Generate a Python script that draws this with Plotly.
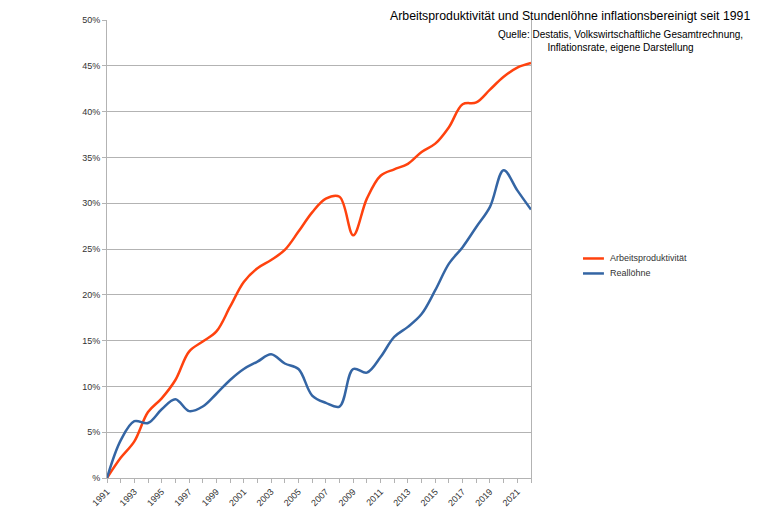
import plotly.graph_objects as go

years = list(range(1991, 2023))
arbeitsproduktivitaet = [0.0, 2.2, 4.0, 7.2, 8.7, 10.7, 13.8, 14.9, 16.0, 18.7, 21.4, 22.9,
                         23.8, 24.9, 26.9, 29.0, 30.5, 30.7, 26.5, 30.5, 33.0, 33.7, 34.3,
                         35.6, 36.5, 38.3, 40.8, 41.0, 42.4, 43.8, 44.8, 45.3]
realloehne = [0.0, 4.1, 6.2, 6.0, 7.5, 8.6, 7.3, 7.8, 9.2, 10.7, 11.9, 12.7, 13.5, 12.5,
              11.9, 9.0, 8.2, 7.8, 11.9, 11.5, 13.2, 15.4, 16.5, 17.9, 20.5, 23.4, 25.2,
              27.4, 29.6, 33.6, 31.4, 29.3]
y_ticks = [0, 5, 10, 15, 20, 25, 30, 35, 40, 45, 50]
y_ticktext = ["%", "5%", "10%", "15%", "20%", "25%", "30%", "35%", "40%", "45%", "50%"]
x_ticks = list(range(1991, 2023, 2))
series_names = ["Arbeitsproduktivität", "Reallöhne"]
series_colors = ["#ff420e", "#3465a4"]

title = "Arbeitsproduktivität und Stundenlöhne inflationsbereinigt seit 1991"
source = "Quelle: Destatis, Volkswirtschaftliche Gesamtrechnung,<br>Inflationsrate, eigene Darstellung"

fig = go.Figure()
for name, vals, col in zip(series_names, [arbeitsproduktivitaet, realloehne], series_colors):
    fig.add_trace(go.Scatter(x=years, y=vals, mode="lines", name=name, showlegend=False,
                             line=dict(color=col, width=2.5, shape="spline", smoothing=1.0)))

annotations = [
    dict(text=title, xref="paper", yref="paper", x=1.521, y=1.008, xanchor="right",
         yanchor="middle", showarrow=False, font=dict(size=12.3, color="#000000")),
    dict(text=source, xref="paper", yref="paper", x=1.212, y=0.955, xanchor="center",
         yanchor="middle", align="center", showarrow=False,
         font=dict(size=10, color="#000000")),
]
shapes = []
legend_y = [0.4793, 0.4466]
for name, col, ly in zip(series_names, series_colors, legend_y):
    shapes.append(dict(type="line", xref="paper", yref="paper", x0=1.1226, x1=1.172,
                       y0=ly, y1=ly, line=dict(color=col, width=2.5)))
    annotations.append(dict(text=name, xref="paper", yref="paper", x=1.1816, y=ly,
                            xanchor="left", yanchor="middle", showarrow=False,
                            font=dict(size=9, color="#333333")))

fig.update_layout(
    width=760, height=507,
    margin=dict(l=99, r=237, t=7, b=33),
    paper_bgcolor="white", plot_bgcolor="white",
    font=dict(family="Liberation Sans", size=9, color="#333333"),
    showlegend=False,
    annotations=annotations,
    shapes=shapes,
)
fig.update_xaxes(range=[1991, 2022], tickvals=x_ticks, ticktext=[str(v) for v in x_ticks],
                 tickangle=-45, showgrid=False, showline=True, linecolor="#b3b3b3",
                 linewidth=1, ticks="outside", ticklen=4, tickcolor="#b3b3b3",
                 minor=dict(dtick=1, ticks="outside", ticklen=4, tickcolor="#b3b3b3", showgrid=False),
                 zeroline=False, tickfont=dict(size=9))
fig.update_yaxes(range=[0, 50], tickvals=y_ticks, ticktext=y_ticktext, showgrid=True,
                 gridcolor="#b3b3b3", gridwidth=1, showline=True, linecolor="#b3b3b3",
                 linewidth=1, mirror=True, ticks="outside", ticklen=4, tickcolor="#b3b3b3",
                 zeroline=False, tickfont=dict(size=9))

fig.write_html("out.html")
